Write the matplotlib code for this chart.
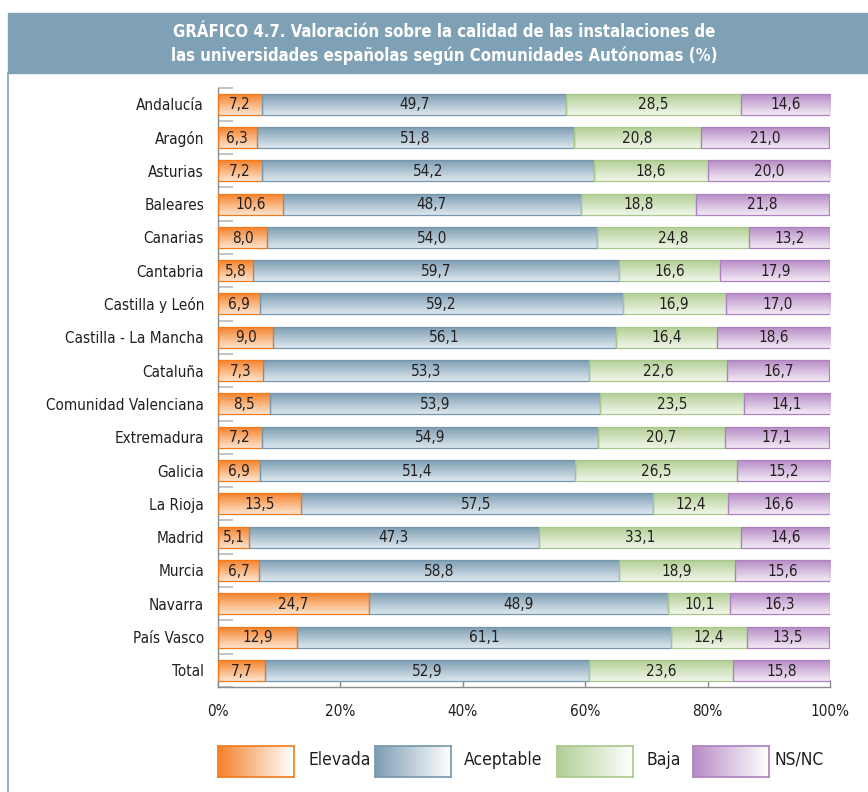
import numpy as np
import matplotlib
matplotlib.use("Agg")
import matplotlib.pyplot as plt
from matplotlib import font_manager as fm
from matplotlib.patches import Rectangle
from matplotlib.colors import to_rgb

# ---------------- data ----------------
regions = ["Andalucía", "Aragón", "Asturias", "Baleares", "Canarias", "Cantabria",
           "Castilla y León", "Castilla - La Mancha", "Cataluña", "Comunidad Valenciana",
           "Extremadura", "Galicia", "La Rioja", "Madrid", "Murcia", "Navarra",
           "País Vasco", "Total"]
elevada = [7.2, 6.3, 7.2, 10.6, 8.0, 5.8, 6.9, 9.0, 7.3, 8.5, 7.2, 6.9, 13.5, 5.1, 6.7, 24.7, 12.9, 7.7]
aceptable = [49.7, 51.8, 54.2, 48.7, 54.0, 59.7, 59.2, 56.1, 53.3, 53.9, 54.9, 51.4, 57.5, 47.3, 58.8, 48.9, 61.1, 52.9]
baja = [28.5, 20.8, 18.6, 18.8, 24.8, 16.6, 16.9, 16.4, 22.6, 23.5, 20.7, 26.5, 12.4, 33.1, 18.9, 10.1, 12.4, 23.6]
nsnc = [14.6, 21.0, 20.0, 21.8, 13.2, 17.9, 17.0, 18.6, 16.7, 14.1, 17.1, 15.2, 16.6, 14.6, 15.6, 16.3, 13.5, 15.8]
series_names = ["Elevada", "Aceptable", "Baja", "NS/NC"]
x_ticks = [0, 20, 40, 60, 80, 100]
x_ticklabels = ["0%", "20%", "40%", "60%", "80%", "100%"]
title = ("GRÁFICO 4.7. Valoración sobre la calidad de las instalaciones de\n"
         "las universidades españolas según Comunidades Autónomas (%)")

# ---------------- style ----------------
names = {f.name for f in fm.fontManager.ttflist}
if "Liberation Sans Narrow" in names:
    FAM = "Liberation Sans Narrow"
    STRETCH = "normal"
elif "DejaVu Sans Condensed" in names:
    FAM = "DejaVu Sans Condensed"
    STRETCH = "normal"
else:
    FAM = "DejaVu Sans"
    STRETCH = "condensed"
plt.rcParams["font.family"] = [FAM, "DejaVu Sans"]
plt.rcParams["font.stretch"] = STRETCH

dark = ["#f5832b", "#7e9eb4", "#b3cf95", "#b78cc6"]
light = ["#fde4cf", "#dde7ee", "#f0f6e9", "#f3eaf6"]
edge = ["#f07a1e", "#7596ad", "#a9c78a", "#ad80bf"]
banner_col = "#7fa1b5"
txt_col = "#231f20"

W, H = 868, 792
fig = plt.figure(figsize=(W / 100, H / 100), dpi=100)

def fx(px):
    return px / W

def fy(py):
    return 1 - py / H

# banner and frame line
fig.patches.append(Rectangle((fx(8), fy(73)), 1 - fx(8), (73 - 13) / H,
                             transform=fig.transFigure, color=banner_col, zorder=0))
fig.add_artist(plt.Line2D([fx(8), fx(8)], [fy(73), 0], transform=fig.transFigure,
                          color=banner_col, lw=1.2))
fig.text(fx(444), fy(44), title, ha="center", va="center", color="white",
         fontsize=12, fontweight="bold", linespacing=1.35)

# main axes
ax = fig.add_axes([fx(218), fy(687), fx(830) - fx(218), (687 - 87.5) / H])
n = len(regions)
data = [elevada, aceptable, baja, nsnc]
bar_h = 0.63
grad_n = 64
for si, vals in enumerate(data):
    c0 = np.array(to_rgb(dark[si]))
    c1 = np.array(to_rgb(light[si]))
    t = np.linspace(0, 1, grad_n)[:, None]
    grad = (c0[None, :] * (1 - t) + c1[None, :] * t)[:, None, :]
    for i in range(n):
        left = sum(data[k][i] for k in range(si))
        w = vals[i]
        ax.imshow(grad, extent=(left, left + w, i - bar_h / 2, i + bar_h / 2),
                  origin="lower", aspect="auto", interpolation="bilinear", zorder=2)
        ax.add_patch(Rectangle((left, i - bar_h / 2), w, bar_h, fill=False,
                               edgecolor=edge[si], lw=0.9, zorder=3))
        ax.text(left + w / 2, i + 0.02, f"{w:.1f}".replace(".", ","), ha="center",
                va="center", fontsize=11, color=txt_col, zorder=4)

ax.set_xlim(0, 100)
ax.set_ylim(n - 0.5, -0.5)
ax.set_yticks(range(n))
ax.set_yticklabels(regions, fontsize=11, color=txt_col)
ax.set_yticks(np.arange(-0.5, n), minor=True)
ax.tick_params(axis="y", which="major", length=0, pad=10)
ax.tick_params(axis="y", which="minor", direction="in", length=11, width=1.1, color="#b4b4b4")
ax.set_xticks(x_ticks)
ax.set_xticklabels(x_ticklabels, fontsize=11, color=txt_col)
ax.tick_params(axis="x", which="major", direction="in", length=5, width=1, color="#8c8c8c", pad=12)
for s in ["top", "right"]:
    ax.spines[s].set_visible(False)
for s in ["left", "bottom"]:
    ax.spines[s].set_color("#8c8c8c")
    ax.spines[s].set_linewidth(1)
ax.set_facecolor("none")

# legend (manual, horizontal gradient swatches)
sw_x = [218, 375, 557, 693]
lab_x = [308, 464, 646, 775]
for si in range(4):
    sax = fig.add_axes([fx(sw_x[si]), fy(777), 76 / W, 31 / H])
    c0 = np.array(to_rgb(dark[si]))
    c1 = np.array([1.0, 1.0, 1.0])
    t = np.linspace(0, 1, grad_n)[None, :, None]
    grad = c0[None, None, :] * (1 - t) + c1[None, None, :] * t
    sax.imshow(grad, aspect="auto", extent=(0, 1, 0, 1), interpolation="bilinear")
    sax.set_xticks([])
    sax.set_yticks([])
    for sp in sax.spines.values():
        sp.set_color(edge[si])
        sp.set_linewidth(1.2)
    fig.text(fx(lab_x[si]), fy(760), series_names[si], ha="left", va="center",
             fontsize=12.5, color=txt_col)

fig.savefig("out.png", dpi=100)
